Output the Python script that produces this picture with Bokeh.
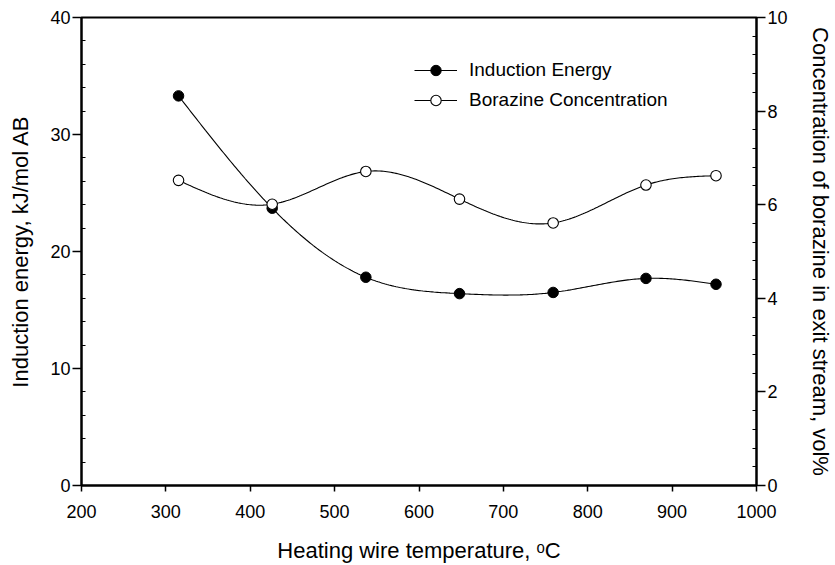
import numpy as np
from bokeh.plotting import figure
from bokeh.models import Range1d, LinearAxis, FixedTicker, Legend, LegendItem
from bokeh.embed import file_html
from bokeh.resources import INLINE

# Heating wire temperature (deg C)
temperature = [315, 426, 537, 648, 759, 869, 952]
# Induction energy, kJ/mol AB (left axis)
induction_energy = [33.3, 23.7, 17.8, 16.4, 16.5, 17.7, 17.2]
# Borazine concentration in exit stream, vol% (right axis)
borazine_conc = [6.52, 6.01, 6.71, 6.12, 5.61, 6.42, 6.62]

x_ticks = [200, 300, 400, 500, 600, 700, 800, 900, 1000]
left_ticks = [0, 10, 20, 30, 40]
right_ticks = [0, 2, 4, 6, 8, 10]

FONT = "Liberation Sans"


def natural_spline(xs, ys, n=300):
    """Smooth connecting curve (natural cubic spline) through the points."""
    x = np.asarray(xs, float)
    y = np.asarray(ys, float)
    k = len(x)
    h = np.diff(x)
    A = np.zeros((k, k))
    b = np.zeros(k)
    A[0, 0] = A[-1, -1] = 1.0
    for i in range(1, k - 1):
        A[i, i - 1] = h[i - 1]
        A[i, i] = 2 * (h[i - 1] + h[i])
        A[i, i + 1] = h[i]
        b[i] = 6 * ((y[i + 1] - y[i]) / h[i] - (y[i] - y[i - 1]) / h[i - 1])
    M = np.linalg.solve(A, b)
    xx = np.linspace(x[0], x[-1], n)
    idx = np.clip(np.searchsorted(x, xx) - 1, 0, k - 2)
    x0, x1 = x[idx], x[idx + 1]
    hh = x1 - x0
    a = (x1 - xx) / hh
    c = (xx - x0) / hh
    yy = (a * y[idx] + c * y[idx + 1]
          + ((a ** 3 - a) * M[idx] + (c ** 3 - c) * M[idx + 1]) * hh ** 2 / 6)
    return xx, yy


p = figure(width=835, height=565, output_backend="svg", toolbar_location=None,
           x_range=Range1d(200, 1000), y_range=Range1d(0, 40),
           min_border_left=81, min_border_right=72,
           min_border_top=17, min_border_bottom=79)
p.extra_y_ranges = {"conc": Range1d(0, 10)}

p.grid.visible = False
p.background_fill_color = "white"
p.border_fill_color = "white"
p.outline_line_color = "black"
p.outline_line_width = 2


def style_axis(ax, major_out, minor_in):
    ax.axis_line_width = 2
    ax.axis_line_color = "black"
    ax.major_tick_line_width = 1.5
    ax.major_tick_line_color = "black"
    ax.minor_tick_line_width = 1
    ax.minor_tick_line_color = "black"
    ax.major_tick_in = 0
    ax.major_tick_out = major_out
    ax.minor_tick_in = minor_in
    ax.minor_tick_out = 0
    ax.major_label_text_font = FONT
    ax.major_label_text_font_size = "18px"
    ax.major_label_text_color = "black"
    ax.axis_label_text_font = FONT
    ax.axis_label_text_font_size = "22px"
    ax.axis_label_text_font_style = "normal"
    ax.axis_label_text_color = "black"


xa = p.xaxis[0]
xa.ticker = FixedTicker(ticks=x_ticks)
style_axis(xa, 6, 0)
xa.major_label_standoff = 13
xa.axis_label = "Heating wire temperature, \u1d52C"
xa.axis_label_standoff = 17

ya = p.yaxis[0]
ya.ticker = FixedTicker(ticks=left_ticks,
                        minor_ticks=[v for v in range(0, 41, 2) if v % 10])
style_axis(ya, 9, 4)
ya.major_label_standoff = 2
ya.axis_label = "Induction energy, kJ/mol AB"
ya.axis_label_standoff = 14

ra = LinearAxis(y_range_name="conc")
ra.ticker = FixedTicker(ticks=right_ticks,
                        minor_ticks=[round(0.4 * i, 1) for i in range(26) if i % 5])
style_axis(ra, 9, 4)
ra.major_label_standoff = 2
ra.axis_label = "Concentration of borazine in exit stream, vol%"
ra.axis_label_standoff = 17
p.add_layout(ra, "right")

# smooth connecting curves
ex, ey = natural_spline(temperature, induction_energy)
bx, by = natural_spline(temperature, borazine_conc)
l1 = p.line(ex, ey, line_color="black", line_width=1.1)
l2 = p.line(bx, by, line_color="black", line_width=1.1, y_range_name="conc")

s1 = p.scatter(temperature, induction_energy, marker="circle", size=10.5,
               fill_color="black", line_color="black", line_width=1)
s2 = p.scatter(temperature, borazine_conc, marker="circle", size=10.5,
               fill_color="white", line_color="black", line_width=1.1,
               y_range_name="conc")

legend = Legend(items=[LegendItem(label="Induction Energy", renderers=[l1, s1]),
                       LegendItem(label="Borazine Concentration", renderers=[l2, s2])],
                location=(333, 372), orientation="vertical",
                glyph_width=43, glyph_height=26, label_height=26,
                label_standoff=12, spacing=4, padding=0, margin=0,
                border_line_color=None, background_fill_alpha=0,
                label_text_font=FONT, label_text_font_size="19px",
                label_text_color="black")
p.add_layout(legend, "center")

open("out.html", "w").write(file_html(p, INLINE))
